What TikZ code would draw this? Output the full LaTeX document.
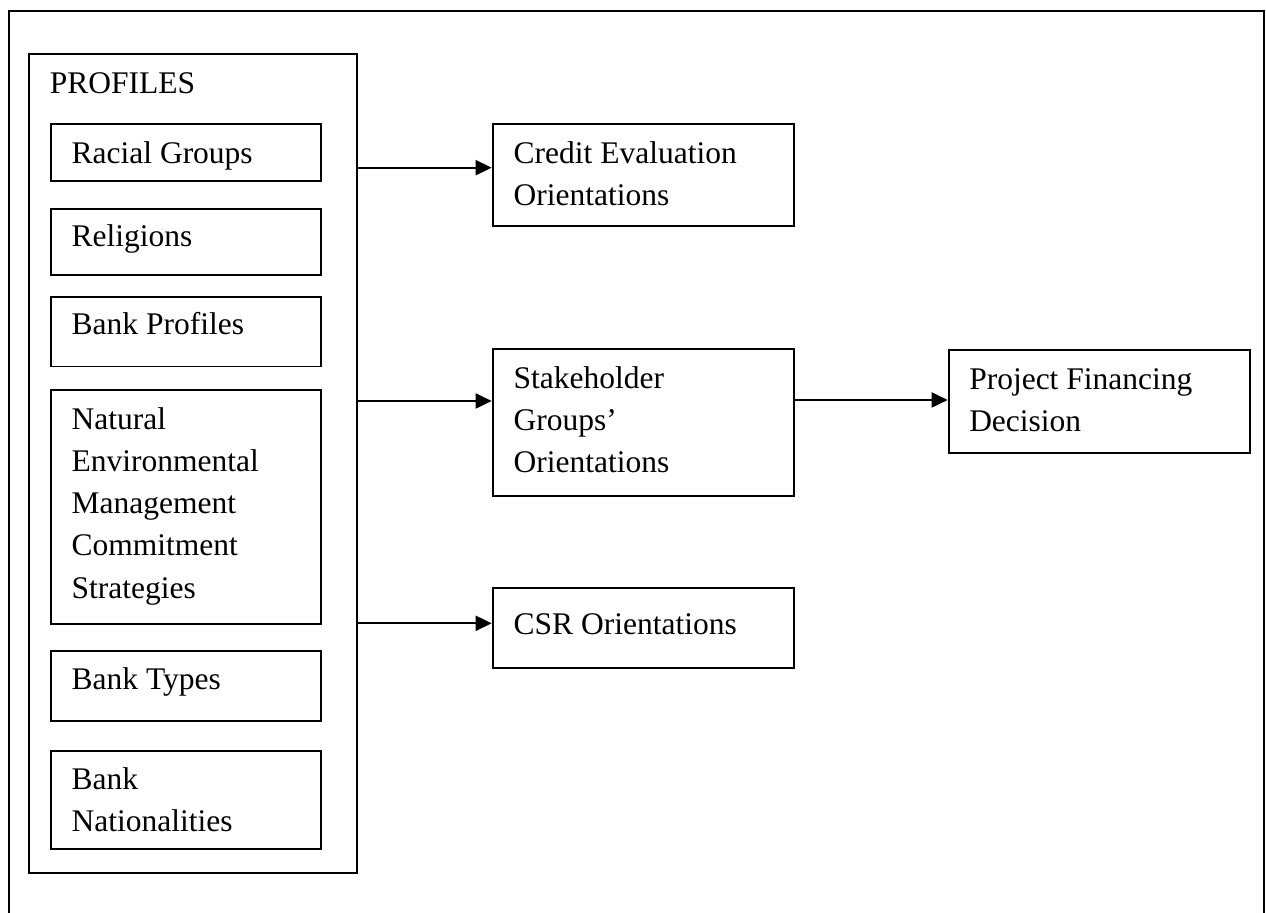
\documentclass[tikz,border=0pt]{standalone}
\usepackage{fontspec}
\setmainfont{Liberation Serif}
\usetikzlibrary{arrows.meta,calc}
\newcommand{\mylines}[1]{\begin{tabular}[t]{@{}l@{}}#1\end{tabular}}
\begin{document}
\begin{tikzpicture}[x=0.5pt,y=-0.5pt,
  line width=0.95pt,
  box/.style={draw=black, line width=0.95pt, rectangle, inner sep=0pt, anchor=north west},
  txt/.style={anchor=base west, inner sep=0pt, font=\fontsize{15.75}{21.1}\selectfont},
  arr/.style={draw=black, line width=0.95pt, -{Triangle[length=8pt,width=7.5pt]}}]
\useasboundingbox (0,0) rectangle (1266,913);
% outer frame (bottom edge lies outside the page)
\draw[line width=1.05pt] (9,913) -- (9,11) -- (1264,11) -- (1264,913);
% Profiles container
\node[box, minimum width=164pt, minimum height=409.5pt] (prof) at (28,53) {};
\node[txt] (proft) at (49,93.3) {PROFILES};
% inner boxes
\node[box, minimum width=135pt, minimum height=28.8pt] (racial) at (50,122.7) {};
\node[txt] (racialt) at (70.7,163.3) {Racial Groups};
\node[box, minimum width=135pt, minimum height=33pt] (relig) at (50,208) {};
\node[txt] (religt) at (70.7,246.7) {Religions};
\node[box, minimum width=135pt, minimum height=34.8pt] (bprof) at (50,296) {};
\node[txt] (bproft) at (70.7,335) {Bank Profiles};
\node[box, minimum width=135pt, minimum height=117pt] (nat) at (50,389.3) {};
\node[txt] (natt) at (70.7,429.3) {\mylines{Natural\\Environmental\\Management\\Commitment\\Strategies}};
\node[box, minimum width=135pt, minimum height=35pt] (btype) at (50,650) {};
\node[txt] (btypet) at (70.7,690) {Bank Types};
\node[box, minimum width=135pt, minimum height=49pt] (bnat) at (50,750) {};
\node[txt] (bnatt) at (70.7,789.3) {\mylines{Bank\\Nationalities}};
% middle column
\node[box, minimum width=150.5pt, minimum height=51.2pt] (credit) at (491.7,122.7) {};
\node[txt] (creditt) at (512.7,163.3) {\mylines{Credit Evaluation\\Orientations}};
\node[box, minimum width=150.5pt, minimum height=73.4pt] (stake) at (491.7,348.3) {};
\node[txt] (staket) at (512.7,388.3) {\mylines{Stakeholder\\Groups'\\Orientations}};
\node[box, minimum width=150.5pt, minimum height=40pt] (csr) at (491.7,586.7) {};
\node[txt] (csrt) at (512.7,635) {CSR Orientations};
% right
\node[box, minimum width=150.7pt, minimum height=51.2pt] (proj) at (947.7,349.3) {};
\node[txt] (projt) at (968.3,389.3) {\mylines{Project Financing\\Decision}};
% connectors
\coordinate (y1) at (0,167.7);
\coordinate (y2) at (0,401);
\coordinate (y3) at (0,623.3);
\coordinate (y4) at (0,400);
\draw[arr] (prof.east |- y1) -- (credit.west |- y1);
\draw[arr] (prof.east |- y2) -- (stake.west |- y2);
\draw[arr] (prof.east |- y3) -- (csr.west |- y3);
\draw[arr] (stake.east |- y4) -- (proj.west |- y4);
\end{tikzpicture}
\end{document}
